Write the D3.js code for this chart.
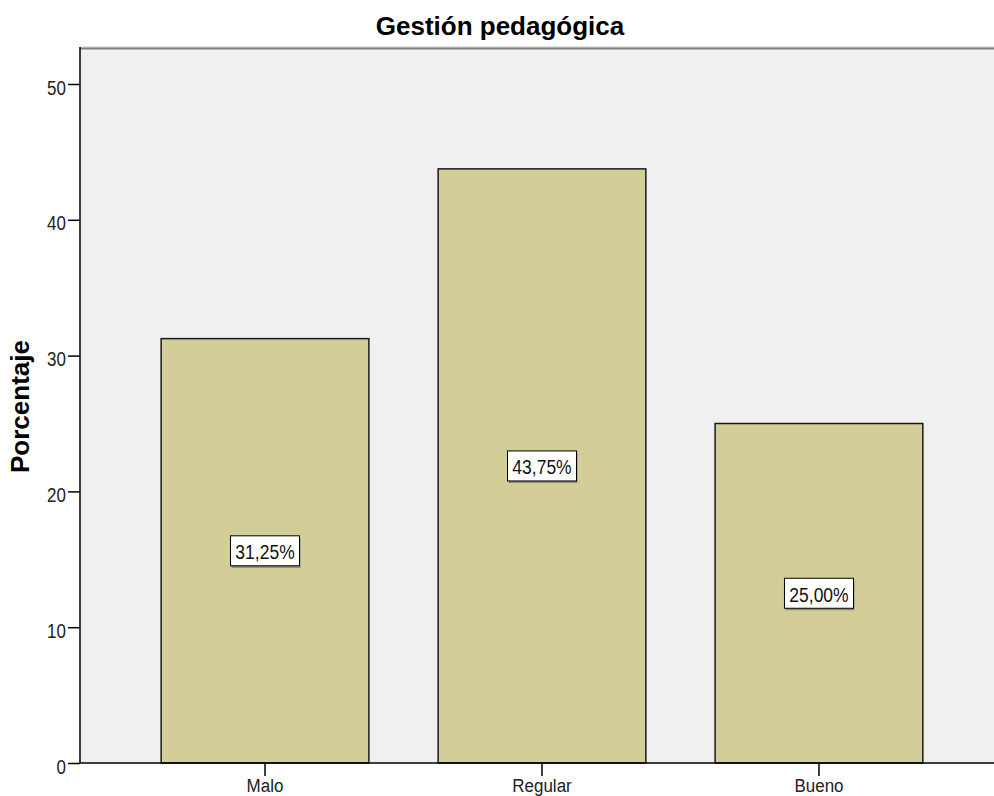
<!DOCTYPE html>
<html>
<head>
<meta charset="utf-8">
<script src="https://cdn.jsdelivr.net/npm/d3@7"></script>
<style>
html,body{margin:0;padding:0;background:#fff;}
svg{display:block;}
text{font-family:"Liberation Sans",Arial,sans-serif;}
</style>
</head>
<body>
<svg id="chart" width="994" height="796"></svg>
<script>
const categories = ["Malo", "Regular", "Bueno"];
const values = [31.25, 43.75, 25.00];
const valueLabels = ["31,25%", "43,75%", "25,00%"];
const yTicks = [0, 10, 20, 30, 40, 50];
const chartTitle = "Gestión pedagógica";
const yTitle = "Porcentaje";

const svg = d3.select("#chart");
const pLeft = 80, pTop = 48, pBottom = 763, pRight = 994;

const y = d3.scaleLinear().domain([0, 50]).range([pBottom, 84]);
const x = d3.scaleBand().domain(categories).range([pLeft, 1004])
  .paddingInner(0.25).paddingOuter(0.293);

// plot background
svg.append("rect").attr("x", pLeft).attr("y", pTop).attr("width", pRight - pLeft).attr("height", pBottom - pTop)
  .attr("fill", "#f0f0f0");
// top border
svg.append("line").attr("x1", pLeft).attr("x2", pRight).attr("y1", pTop - 1).attr("y2", pTop - 1)
  .attr("stroke", "#c8c8c8").attr("stroke-width", 1);
svg.append("line").attr("x1", pLeft).attr("x2", pRight).attr("y1", pTop + 0.5).attr("y2", pTop + 0.5)
  .attr("stroke", "#808080").attr("stroke-width", 2);

// bars
svg.append("g").selectAll("rect").data(values).join("rect")
  .attr("x", (d, i) => x(categories[i]))
  .attr("y", d => y(d))
  .attr("width", x.bandwidth())
  .attr("height", d => y(0) - y(d))
  .attr("fill", "#d3ce97")
  .attr("stroke", "#1a1a1a")
  .attr("stroke-width", 1.5);

// y axis
const yAxis = d3.axisLeft(y).tickValues(yTicks).tickSize(12).tickSizeOuter(0).tickPadding(2);
const gy = svg.append("g").attr("transform", `translate(${pLeft},0)`).call(yAxis);
gy.select(".domain").remove();
gy.selectAll(".tick line").attr("stroke", "#000").attr("stroke-width", 1.5);
gy.selectAll(".tick text").attr("font-size", 17).attr("fill", "#222")
  .attr("font-family", "'Liberation Sans', Arial, sans-serif")
  .each(function() {
    const t = d3.select(this);
    const xx = +t.attr("x");
    t.attr("x", null).attr("dy", "0.36em")
     .attr("transform", `translate(${xx},3) scale(1,1.15)`);
  });
svg.append("line").attr("x1", pLeft).attr("x2", pLeft).attr("y1", pTop - 1).attr("y2", pBottom)
  .attr("stroke", "#000").attr("stroke-width", 1.5);

// x axis
const xAxis = d3.axisBottom(x).tickSize(13).tickSizeOuter(0).tickPadding(6);
const gx = svg.append("g").attr("transform", `translate(0,${pBottom})`).call(xAxis);
gx.select(".domain").remove();
gx.selectAll(".tick line").attr("stroke", "#000").attr("stroke-width", 1.5);
gx.selectAll(".tick text").attr("font-size", 17).attr("fill", "#222")
  .attr("font-family", "'Liberation Sans', Arial, sans-serif")
  .attr("y", null).attr("dy", null)
  .attr("transform", "translate(0,29) scale(1,1.12)");
svg.append("line").attr("x1", pLeft).attr("x2", pRight).attr("y1", pBottom).attr("y2", pBottom)
  .attr("stroke", "#000").attr("stroke-width", 1.5);

// value labels
const lg = svg.append("g").selectAll("g").data(values).join("g")
  .attr("transform", (d, i) => `translate(${x(categories[i]) + x.bandwidth() / 2},${y(d / 2)})`);
lg.append("rect").attr("x", -33.5).attr("y", -13).attr("width", 69).attr("height", 30)
  .attr("fill", "#8a8a7a");
lg.append("rect").attr("x", -34.5).attr("y", -15).attr("width", 69).attr("height", 30)
  .attr("fill", "#fff").attr("stroke", "#000").attr("stroke-width", 1);
lg.append("text").text((d, i) => valueLabels[i])
  .attr("text-anchor", "middle").attr("font-size", 17.5).attr("fill", "#111")
  .attr("transform", "translate(0,1) scale(1,1.15)")
  .attr("dy", "0.36em");

// title
svg.append("text").text(chartTitle).attr("x", 500).attr("y", 34.5)
  .attr("text-anchor", "middle").attr("font-size", 26).attr("font-weight", "bold").attr("fill", "#000");

// y title
svg.append("text").text(yTitle)
  .attr("transform", `translate(28.5,406.5) rotate(-90)`)
  .attr("text-anchor", "middle").attr("font-size", 26).attr("font-weight", "bold").attr("fill", "#000");
</script>
</body>
</html>
